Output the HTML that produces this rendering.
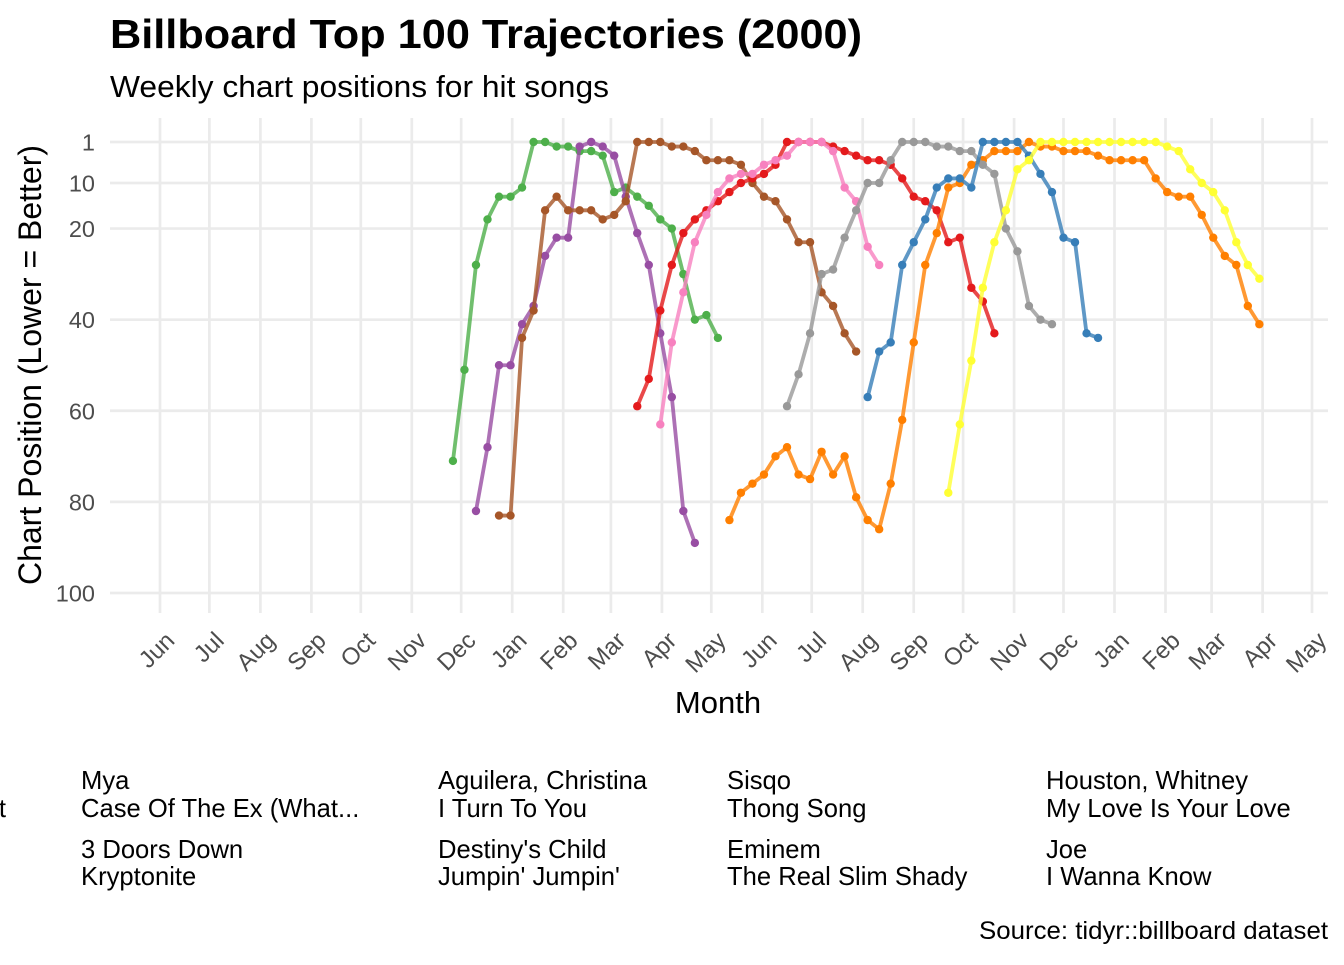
<!DOCTYPE html>
<html><head><meta charset="utf-8"><style>
body{margin:0;background:#fff;}
svg text{font-family:"Liberation Sans",Arial,sans-serif;}
</style></head><body>
<svg id="chart" width="1344" height="960" xmlns="http://www.w3.org/2000/svg">
<rect width="1344" height="960" fill="#fff"/>
<text x="110" y="48" font-size="41" font-weight="bold" fill="#000" textLength="752" lengthAdjust="spacingAndGlyphs">Billboard Top 100 Trajectories (2000)</text>
<text x="110" y="97" font-size="31" fill="#000" textLength="499" lengthAdjust="spacingAndGlyphs">Weekly chart positions for hit songs</text>
<g id="grid"></g>
<g id="series"></g>
<g id="axes"></g>
<text transform="translate(41,365) rotate(-90)" text-anchor="middle" font-size="32" fill="#000" textLength="440" lengthAdjust="spacingAndGlyphs">Chart Position (Lower = Better)</text>
<text x="718" y="713" text-anchor="middle" font-size="31" fill="#000">Month</text>
<g font-size="25.6" fill="#000">
<text text-anchor="end" x="-40" y="789">Vertical Horizon<tspan x="6" dy="28">Everything You Want</tspan></text>
<text x="81" y="789">Mya<tspan x="81" dy="28">Case Of The Ex (What...</tspan></text>
<text x="438" y="789">Aguilera, Christina<tspan x="438" dy="28">I Turn To You</tspan></text>
<text x="727" y="789">Sisqo<tspan x="727" dy="28">Thong Song</tspan></text>
<text x="1046" y="789">Houston, Whitney<tspan x="1046" dy="28">My Love Is Your Love</tspan></text>
<text x="81" y="858">3 Doors Down<tspan x="81" dy="27">Kryptonite</tspan></text>
<text x="438" y="858">Destiny's Child<tspan x="438" dy="27">Jumpin' Jumpin'</tspan></text>
<text x="727" y="858">Eminem<tspan x="727" dy="27">The Real Slim Shady</tspan></text>
<text x="1046" y="858">Joe<tspan x="1046" dy="27">I Wanna Know</tspan></text>
</g>
<text x="1328" y="939" text-anchor="end" font-size="25" fill="#000" textLength="349" lengthAdjust="spacingAndGlyphs">Source: tidyr::billboard dataset</text>
</svg>
<script>
const NS="http://www.w3.org/2000/svg";
const monthTicks=["1999-06-01","1999-07-01","1999-08-01","1999-09-01","1999-10-01","1999-11-01","1999-12-01","2000-01-01","2000-02-01","2000-03-01","2000-04-01","2000-05-01","2000-06-01","2000-07-01","2000-08-01","2000-09-01","2000-10-01","2000-11-01","2000-12-01","2001-01-01","2001-02-01","2001-03-01","2001-04-01","2001-05-01"];
const monthLabels=["Jun","Jul","Aug","Sep","Oct","Nov","Dec","Jan","Feb","Mar","Apr","May","Jun","Jul","Aug","Sep","Oct","Nov","Dec","Jan","Feb","Mar","Apr","May"];
const yTicks=[1,10,20,40,60,80,100];
const seriesNames=["green","purple","brown","red","pink","orange","grey","blue","yellow"];
const seriesColors=["#4DAF4A","#984EA3","#A65628","#E41A1C","#F781BF","#FF7F00","#999999","#377EB8","#FFFF33"];
const seriesStarts=["1999-11-26","1999-12-10","1999-12-24","2000-03-17","2000-03-31","2000-05-12","2000-06-16","2000-08-04","2000-09-22"];
const rankGreen=[71,51,28,18,13,13,11,1,1,2,2,3,3,4,12,11,13,15,18,20,30,40,39,44];
const rankPurple=[82,68,50,50,41,37,26,22,22,2,1,2,4,13,21,28,43,57,82,89];
const rankBrown=[83,83,44,38,16,13,16,16,16,18,17,14,1,1,1,2,2,3,5,5,5,6,10,13,14,18,23,23,34,37,43,47];
const rankRed=[59,53,38,28,21,18,16,14,12,10,9,8,6,1,1,1,1,2,3,4,5,5,6,9,13,14,16,23,22,33,36,43];
const rankPink=[63,45,34,23,17,12,9,8,8,6,5,4,1,1,1,3,11,14,24,28];
const rankOrange=[84,78,76,74,70,68,74,75,69,74,70,79,84,86,76,62,45,28,21,11,10,6,5,3,3,3,1,2,2,3,3,3,4,5,5,5,5,9,12,13,13,17,22,26,28,37,41];
const rankGrey=[59,52,43,30,29,22,16,10,10,5,1,1,1,2,2,3,3,6,8,20,25,37,40,41];
const rankBlue=[57,47,45,28,23,18,11,9,9,11,1,1,1,1,4,8,12,22,23,43,44];
const rankYellow=[78,63,49,33,23,16,7,5,1,1,1,1,1,1,1,1,1,1,1,2,3,7,10,12,16,23,28,31];
const allRanks=[rankGreen,rankPurple,rankBrown,rankRed,rankPink,rankOrange,rankGrey,rankBlue,rankYellow];

const DAY=86400000;
const t0=Date.UTC(1999,5,1), t1=Date.UTC(2001,4,1);
function xScale(ms){return 160+(ms-t0)/(t1-t0)*(1312-160);}
function xDate(s){const p=s.split("-");return xScale(Date.UTC(+p[0],+p[1]-1,+p[2]));}
function yScale(r){return 142+(r-1)/99*(593-142);}

const grid=document.getElementById("grid"),axes=document.getElementById("axes"),ser=document.getElementById("series");
function mk(tag,attrs,parent){const e=document.createElementNS(NS,tag);for(const k in attrs)e.setAttribute(k,attrs[k]);parent.appendChild(e);return e;}

yTicks.forEach((v,i)=>{
  const y=yScale(v);
  const l=mk("line",{x1:110,x2:1328,y1:y,y2:y,stroke:"#EBEBEB","stroke-width":2.7},grid);
  
  
  const t=mk("text",{x:95,y:y+8.5,"text-anchor":"end","font-size":23.5,fill:"#4D4D4D"},axes);
  
  
  t.textContent=v;
});
monthTicks.forEach((d,i)=>{
  const x=xDate(d);
  const l=mk("line",{x1:x,x2:x,y1:118,y2:613,stroke:"#EBEBEB","stroke-width":2.7},grid);
  
  
  const t=mk("text",{transform:`translate(${x+16},${642}) rotate(-45)`,"text-anchor":"end","font-size":24,fill:"#4D4D4D"},axes);
  
  
  t.textContent=monthLabels[i];
});

allRanks.forEach((ranks,si)=>{
  const p=seriesStarts[si].split("-");
  const start=Date.UTC(+p[0],+p[1]-1,+p[2]);
  const pts=ranks.map((r,k)=>[xScale(start+k*7*DAY),yScale(r)]);
  const g=mk("g",{},ser);
  
  
  const pl=mk("polyline",{points:pts.map(q=>q.join(",")).join(" "),fill:"none",stroke:seriesColors[si],"stroke-width":3.8,"stroke-opacity":0.8,"stroke-linejoin":"round"},g);
  
  
  pts.forEach(q=>{
    const c=mk("circle",{cx:q[0],cy:q[1],r:4.2,fill:seriesColors[si]},g);
    
    
  });
});
</script>
</body></html>
